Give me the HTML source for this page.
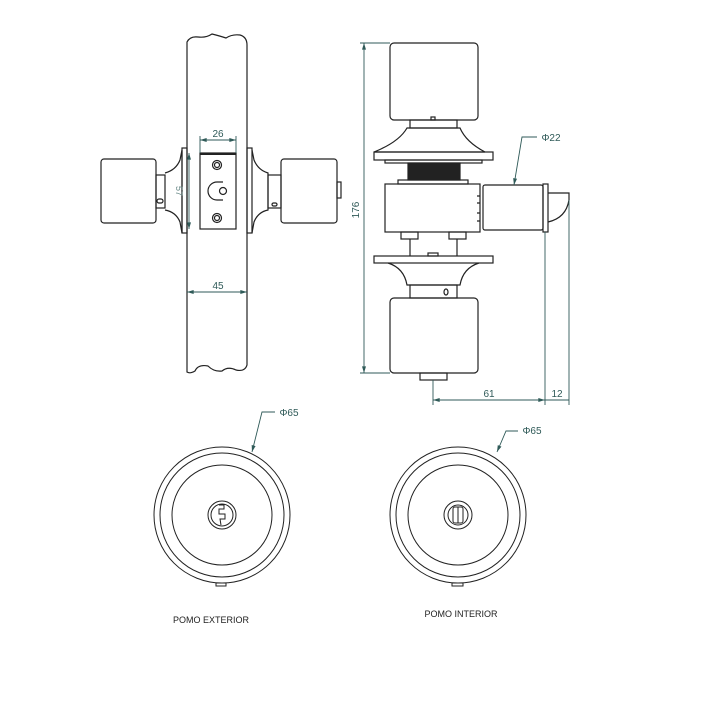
<!DOCTYPE html>
<html><head><meta charset="utf-8"><style>html,body{margin:0;padding:0;background:#fff}svg{display:block}</style></head>
<body>
<svg width="708" height="708" viewBox="0 0 708 708" xmlns="http://www.w3.org/2000/svg">
<defs>
<marker id="a" viewBox="0 0 10 6" refX="10" refY="3" markerWidth="7" markerHeight="4" orient="auto-start-reverse" markerUnits="userSpaceOnUse"><path d="M0,0 L10,3 L0,6z" fill="#2f5a58"/></marker>
</defs>
<g fill="none" stroke="#222" stroke-width="1.2">
<path d="M187,372 L187,42 Q190,36 198,37 Q206,38 212,34 Q220,36 226,38 Q232,34 240,35 Q247,37 247,45 L247,365 Q245,372 236,370 Q228,366 222,371 Q214,372 208,366 Q198,364 195,371 Q190,374 187,372Z"/>
<rect x="101" y="159" width="55" height="64" rx="3"/>
<rect x="156" y="175" width="9" height="33"/>
<path d="M165,173 Q176,170 180,160 L182,150 L182,233 L180,222 Q176,212 165,210"/>
<rect x="182" y="148" width="5" height="85"/>
<rect x="157" y="199" width="6" height="4" rx="2"/>
<rect x="247" y="148" width="5" height="85"/>
<path d="M252,150 L254,160 Q258,170 268,173 L268,210 Q258,212 254,222 L252,233"/>
<rect x="268" y="175" width="13" height="33"/>
<rect x="281" y="159" width="56" height="64" rx="3"/>
<rect x="337" y="182" width="4" height="16"/>
<rect x="272" y="203" width="5" height="3" rx="1.5"/>
<rect x="200" y="153" width="36" height="76"/>
<line x1="200" y1="154" x2="236" y2="154" stroke-width="2"/>
<circle cx="217" cy="165" r="4.5"/><circle cx="217" cy="165" r="2.5"/>
<circle cx="217" cy="218" r="4.5"/><circle cx="217" cy="218" r="2.5"/>
<path d="M223,182 L217,182 A9,9 0 0 0 217,200 L223,200"/>
<circle cx="223" cy="191" r="3.5"/>

<rect x="390" y="43" width="88" height="77" rx="4"/>
<rect x="410" y="120" width="47" height="8"/>
<rect x="431" y="117" width="4" height="3"/>
<path d="M407,128 L460,128 Q466,142 485,152 L374,152 Q399,142 407,128Z"/>
<rect x="374" y="152" width="119" height="8"/>
<rect x="385" y="160" width="97" height="3"/>
<rect x="408" y="163" width="52" height="17" fill="#222"/>
<rect x="398" y="180" width="70" height="4"/>
<rect x="385" y="184" width="95" height="48"/>
<path d="M480,196 L477,196 M480,203 L477,203 M480,213 L477,213 M480,221 L477,221"/>
<rect x="483" y="185" width="60" height="45" rx="2"/>
<rect x="543" y="184" width="5" height="48"/>
<path d="M548,193 L569,193 L569,200 Q566,218 548,222"/>
<rect x="401" y="232" width="17" height="7"/>
<rect x="449" y="232" width="17" height="7"/>
<line x1="410" y1="239" x2="410" y2="256"/><line x1="457" y1="239" x2="457" y2="256"/>
<rect x="374" y="256" width="119" height="7"/>
<rect x="428" y="253" width="10" height="3"/>
<path d="M388,263 Q404,268 407,285 L460,285 Q463,268 479,263"/>
<rect x="410" y="285" width="47" height="13"/>
<ellipse cx="446" cy="292" rx="2" ry="3"/>
<rect x="390" y="298" width="88" height="75" rx="4"/>
<rect x="420" y="373" width="27" height="7"/>

<g stroke-width="1">
<circle cx="222" cy="515" r="68"/><circle cx="222" cy="515" r="62"/><circle cx="222" cy="515" r="50"/>
<circle cx="222" cy="515" r="14"/><circle cx="222" cy="515" r="11"/>
<path d="M219,505 L224,505 L224,509 L219,509 L219,514 L225,514 L225,519 L220,519 L221,525"/>
<rect x="216" y="583" width="10" height="3"/>
<circle cx="458" cy="515" r="68"/><circle cx="458" cy="515" r="62"/><circle cx="458" cy="515" r="50"/>
<circle cx="458" cy="515" r="14"/><circle cx="458" cy="515" r="10"/>
<rect x="453" y="507" width="10" height="16" rx="2"/>
<line x1="458" y1="507" x2="458" y2="523"/>
<rect x="452" y="583" width="11" height="3"/>
</g>
</g>

<g stroke="#2f5a58" stroke-width="0.9" fill="none">
<line x1="200" y1="140" x2="236" y2="140" marker-start="url(#a)" marker-end="url(#a)"/>
<line x1="200" y1="136" x2="200" y2="153"/><line x1="236" y1="136" x2="236" y2="153"/>
<line x1="189" y1="153" x2="189" y2="229" marker-start="url(#a)" marker-end="url(#a)"/>
<line x1="187" y1="292" x2="247" y2="292" marker-start="url(#a)" marker-end="url(#a)"/>
<line x1="364" y1="43" x2="364" y2="373" marker-start="url(#a)" marker-end="url(#a)"/>
<line x1="360" y1="43" x2="390" y2="43"/><line x1="360" y1="373" x2="390" y2="373"/>
<line x1="433" y1="400" x2="545" y2="400" marker-start="url(#a)" marker-end="url(#a)"/>
<line x1="545" y1="400" x2="569" y2="400"/>
<line x1="433" y1="380" x2="433" y2="405"/>
<line x1="545" y1="232" x2="545" y2="405"/>
<line x1="569" y1="200" x2="569" y2="405"/>
<polyline points="537,137 522,137 514,185" marker-end="url(#a)"/>
<polyline points="275,412 262,412 252,452" marker-end="url(#a)"/>
<polyline points="518,431 506,431 497,452" marker-end="url(#a)"/>
</g>
<g font-family="Liberation Sans, sans-serif" font-size="10" fill="#2f5a58" text-anchor="middle">
<text x="218" y="137">26</text>
<text x="218" y="289">45</text>
<text x="489" y="397">61</text>
<text x="557" y="397">12</text>
<text transform="translate(176,191) rotate(90)" fill="#6a8a88" font-size="9">57</text>
<text transform="translate(359,210) rotate(-90)">176</text>
<text x="551" y="141">Φ22</text>
<text x="289" y="416">Φ65</text>
<text x="532" y="434">Φ65</text>
</g>
<g font-family="Liberation Sans, sans-serif" font-size="9" fill="#222" text-anchor="middle">
<text x="211" y="623">POMO EXTERIOR</text>
<text x="461" y="617">POMO INTERIOR</text>
</g>
</svg>
</body></html>
